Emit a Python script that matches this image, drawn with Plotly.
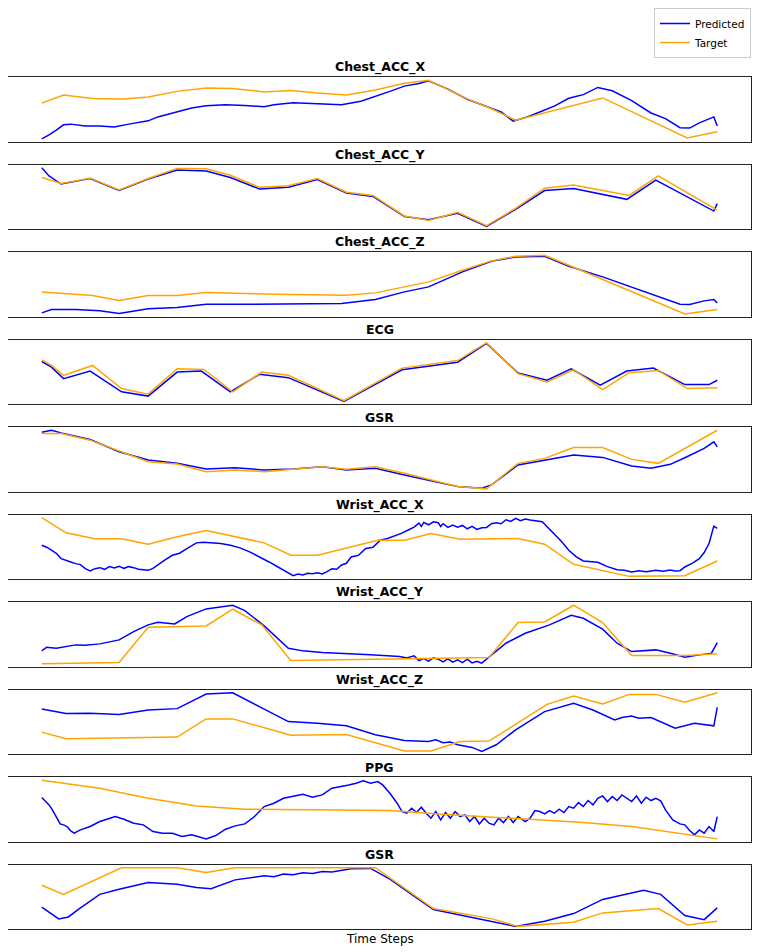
import plotly.graph_objects as go

# ---------------- data (time step, value) ----------------
titles = ["Chest_ACC_X", "Chest_ACC_Y", "Chest_ACC_Z", "ECG", "GSR",
          "Wrist_ACC_X", "Wrist_ACC_Y", "Wrist_ACC_Z", "PPG", "GSR"]
T_END = 1397

# 1 Chest_ACC_X
cax_tgt_t = [0, 45, 105, 170, 220, 280, 340, 395, 460, 515, 570, 630, 690, 750, 800, 880, 930, 980, 1160, 1335, 1397]
cax_tgt_v = [109, 134, 123, 122, 128, 145, 155, 154, 143, 148, 140, 134, 149, 170, 179, 122, 92, 57, 125, 3, 22]
cax_prd_t = [0, 15, 30, 45, 60, 90, 120, 150, 180, 220, 240, 280, 310, 340, 380, 420, 460, 480, 520, 570, 620, 660,
             690, 720, 750, 780, 800, 840, 880, 920, 950, 975, 1000, 1030, 1060, 1090, 1120, 1150, 1180, 1220, 1260,
             1290, 1320, 1340, 1360, 1390, 1397]
cax_prd_v = [0, 12, 27, 43, 45, 39, 39, 36, 45, 55, 67, 82, 94, 101, 104, 102, 98, 104, 110, 107, 104, 115,
             129, 145, 161, 169, 177, 152, 121, 99, 82, 54, 65, 82, 100, 124, 135, 157, 147, 117, 79,
             62, 34, 33, 49, 67, 39]

# 2 Chest_ACC_Y
cay_tgt_t = [0, 40, 100, 160, 220, 280, 340, 390, 450, 510, 570, 630, 685, 750, 800, 860, 920, 980, 1040, 1100, 1215, 1275, 1397]
cay_tgt_v = [149, 131, 147, 111, 146, 177, 176, 156, 119, 124, 146, 104, 94, 31, 17, 42, 1, 54, 116, 126, 94, 154, 49]
cay_prd_t = [0, 15, 40, 70, 100, 160, 220, 280, 340, 390, 450, 510, 570, 630, 685, 750, 800, 860, 920, 980, 1040,
             1100, 1210, 1270, 1390, 1397]
cay_prd_v = [179, 154, 129, 137, 146, 109, 144, 172, 169, 149, 114, 119, 143, 101, 91, 29, 19, 39, -1, 51, 109,
             115, 82, 141, 46, 69]

# 3 Chest_ACC_Z
caz_tgt_t = [0, 105, 160, 220, 280, 340, 480, 630, 690, 800, 870, 930, 980, 1040, 1090, 1330, 1397]
caz_tgt_v = [66, 55, 40, 55, 55, 64, 59, 56, 63, 96, 131, 159, 173, 176, 146, 0, 13]
caz_prd_t = [0, 20, 70, 120, 160, 220, 280, 340, 420, 520, 620, 690, 750, 800, 870, 930, 980, 1040, 1090, 1160,
             1220, 1270, 1320, 1340, 1370, 1390, 1397]
caz_prd_v = [3, 13, 13, 9, 1, 15, 19, 29, 29, 29, 31, 43, 66, 81, 126, 158, 171, 173, 143, 111,
             81, 56, 29, 28, 39, 43, 33]

# 4 ECG
ecg_tgt_t = [0, 20, 45, 105, 165, 220, 280, 335, 395, 455, 510, 625, 745, 860, 920, 985, 1045, 1100, 1160, 1215, 1275, 1335, 1397]
ecg_tgt_v = [125, 108, 78, 108, 38, 21, 98, 96, 28, 88, 78, 1, 100, 123, 177, 83, 58, 95, 35, 86, 93, 38, 40]
ecg_prd_t = [0, 20, 45, 100, 165, 220, 280, 330, 390, 450, 510, 625, 745, 860, 920, 985, 1045, 1095, 1155, 1210,
             1265, 1330, 1380, 1397]
ecg_prd_v = [120, 103, 68, 91, 28, 15, 88, 91, 28, 81, 71, -1, 95, 118, 175, 85, 63, 98, 48, 91,
             100, 50, 50, 63]

# 5 GSR
gsr_tgt_t = [0, 40, 100, 160, 220, 280, 340, 400, 460, 520, 580, 630, 690, 750, 810, 860, 920, 985, 1040, 1100,
             1160, 1220, 1275, 1330, 1397]
gsr_tgt_v = [166, 166, 146, 114, 81, 74, 51, 56, 51, 58, 66, 58, 66, 46, 24, 6, -1, 76, 91, 124,
             124, 88, 76, 121, 176]
gsr_prd_t = [0, 20, 40, 100, 160, 220, 280, 340, 400, 460, 520, 580, 630, 690, 750, 810, 860, 910, 930, 985,
             1040, 1100, 1160, 1220, 1260, 1300, 1330, 1370, 1390, 1397]
gsr_prd_v = [170, 176, 168, 148, 111, 86, 76, 59, 63, 56, 59, 66, 56, 61, 41, 21, 6, 1, 11, 71,
             86, 101, 94, 68, 61, 73, 93, 121, 141, 126]

# 6 Wrist_ACC_X
wax_tgt_t = [0, 50, 110, 165, 220, 280, 340, 400, 460, 515, 570, 695, 750, 805, 865, 985, 1040, 1100, 1215, 1330, 1397]
wax_tgt_v = [176, 131, 113, 113, 97, 119, 138, 119, 101, 64, 64, 109, 109, 129, 112, 114, 97, 37, 1, 3, 47]
wax_prd_t = [0, 10, 20, 30, 40, 50, 60, 70, 80, 90, 100, 110, 120, 130, 140, 150, 160, 170, 180, 190, 200, 210,
             220, 230, 240, 255, 270, 285, 300, 310, 320, 335, 350, 370, 390, 410, 430, 450, 470, 485, 500, 510,
             520, 530, 540, 550, 560, 570, 580, 590, 600, 610, 620, 630, 640, 655, 670, 685, 700, 715, 730, 745,
             760, 770, 780, 785, 790, 800, 810, 820, 825, 830, 840, 850, 860, 870, 880, 890, 900, 910, 920, 930,
             940, 950, 960, 970, 980, 990, 1000, 1010, 1035, 1060, 1075, 1090, 1105, 1120, 1135, 1150, 1170,
             1190, 1205, 1220, 1235, 1250, 1270, 1285, 1300, 1310, 1320, 1330, 1345, 1360, 1370, 1380, 1390, 1397]
wax_prd_v = [94, 88, 79, 70, 54, 50, 44, 39, 36, 24, 17, 24, 27, 22, 30, 26, 31, 25, 30, 27, 22, 21,
             19, 25, 34, 50, 64, 70, 84, 92, 101, 103, 101, 99, 94, 86, 74, 60, 44, 32, 19, 10,
             3, 8, 5, 10, 9, 12, 8, 15, 24, 22, 35, 40, 59, 64, 84, 88, 109, 114, 121, 130,
             141, 148, 160, 150, 162, 155, 164, 161, 150, 158, 147, 154, 148, 153, 143, 150, 141, 146, 147, 158,
             161, 158, 170, 165, 174, 167, 172, 169, 164, 129, 105, 79, 60, 47, 44, 43, 30,
             21, 19, 14, 18, 15, 19, 16, 20, 17, 18, 29, 40, 54, 72, 99, 151, 144]

# 7 Wrist_ACC_Y
way_tgt_t = [0, 160, 220, 340, 395, 455, 515, 925, 985, 1040, 1100, 1160, 1220, 1330, 1397]
way_tgt_v = [0, 4, 110, 114, 164, 117, 10, 19, 124, 126, 176, 124, 25, 25, 30]
way_prd_t = [0, 10, 30, 50, 70, 90, 120, 160, 190, 220, 240, 275, 300, 340, 395, 420, 460, 510, 540, 580, 620,
             680, 740, 755, 770, 780, 790, 800, 810, 820, 830, 840, 850, 860, 870, 880, 890, 900, 910, 930,
             960, 1000, 1050, 1095, 1120, 1160, 1190, 1220, 1270, 1300, 1330, 1360, 1385, 1397]
way_prd_v = [39, 50, 47, 53, 57, 56, 60, 72, 97, 117, 125, 120, 142, 165, 176, 160, 114, 47, 39, 34, 32,
             27, 22, 18, 24, 10, 16, 8, 18, 14, 6, 15, 5, 12, 4, 14, 3, 8, 2, 27,
             62, 92, 117, 146, 137, 104, 62, 37, 42, 32, 20, 27, 32, 64]

# 8 Wrist_ACC_Z
waz_tgt_t = [0, 50, 280, 340, 395, 515, 630, 750, 805, 865, 925, 1045, 1100, 1160, 1215, 1270, 1330, 1397]
waz_tgt_v = [60, 40, 45, 100, 100, 51, 53, 3, 3, 32, 33, 144, 169, 145, 174, 174, 150, 179]
waz_prd_t = [0, 50, 100, 160, 220, 280, 340, 395, 450, 510, 570, 630, 690, 750, 800, 815, 830, 845, 860, 875,
             890, 900, 910, 940, 980, 1040, 1100, 1140, 1185, 1200, 1220, 1235, 1260, 1310, 1350, 1390, 1397]
waz_prd_v = [130, 116, 117, 113, 127, 131, 175, 179, 137, 92, 87, 79, 52, 35, 32, 37, 28, 30, 22, 18,
             14, 8, 2, 22, 67, 122, 147, 127, 97, 104, 109, 102, 104, 72, 87, 79, 135]

# 9 PPG
ppg_tgt_t = [0, 120, 220, 320, 420, 520, 620, 720, 820, 920, 1020, 1120, 1220, 1320, 1397]
ppg_tgt_v = [176, 152, 122, 99, 89, 87, 87, 85, 75, 67, 59, 49, 37, 17, 0]
ppg_prd_t = [0, 8, 15, 22, 30, 38, 45, 52, 60, 67, 80, 100, 120, 140, 152, 170, 190, 210, 230, 250, 270, 290,
             310, 340, 360, 380, 400, 420, 440, 460, 480, 500, 520, 540, 560, 580, 600, 620, 635, 650, 665,
             680, 695, 705, 720, 735, 745, 755, 765, 775, 785, 795, 805, 815, 825, 835, 845, 855, 865, 875,
             885, 895, 905, 915, 925, 935, 945, 955, 965, 975, 985, 1000, 1010, 1020, 1030, 1040, 1050, 1060,
             1070, 1080, 1090, 1100, 1110, 1120, 1130, 1140, 1150, 1160, 1170, 1180, 1190, 1200, 1210, 1220,
             1230, 1240, 1250, 1260, 1270, 1280, 1290, 1305, 1320, 1330, 1340, 1350, 1360, 1370, 1380, 1390, 1397]
ppg_prd_v = [124, 112, 102, 87, 67, 45, 42, 37, 24, 17, 27, 37, 52, 62, 67, 59, 47, 42, 22, 17, 17, 7,
             12, 0, 10, 29, 39, 45, 67, 97, 107, 122, 127, 134, 125, 132, 152, 157, 162, 167, 174,
             167, 172, 162, 137, 107, 82, 77, 92, 79, 95, 77, 62, 82, 57, 79, 62, 82, 67, 72,
             52, 67, 45, 62, 47, 42, 62, 49, 67, 49, 67, 52, 62, 85, 82, 75, 85, 77,
             89, 79, 97, 92, 109, 97, 115, 102, 122, 129, 112, 127, 115, 132, 122, 112,
             129, 107, 125, 115, 122, 114, 87, 57, 45, 42, 25, 12, 27, 17, 37, 22, 67]

# 10 GSR
gsr2_tgt_t = [0, 45, 165, 280, 340, 400, 690, 810, 930, 985, 1100, 1160, 1275, 1335, 1397]
gsr2_tgt_v = [121, 94, 173, 173, 159, 173, 173, 52, 22, -1, 11, 39, 52, 3, 14]
gsr2_prd_t = [0, 20, 35, 55, 80, 120, 160, 220, 280, 320, 350, 400, 460, 480, 500, 520, 540, 560, 580, 600, 620,
              640, 680, 720, 770, 810, 870, 930, 980, 1040, 1100, 1160, 1210, 1245, 1280, 1330, 1370, 1397]
gsr2_prd_v = [56, 37, 21, 27, 54, 94, 109, 129, 124, 114, 111, 137, 149, 146, 154, 152, 158, 156, 162, 160, 166,
              170, 171, 139, 89, 49, 31, 14, -1, 14, 37, 79, 96, 106, 94, 31, 19, 54]

panels = [
    (cax_prd_t, cax_prd_v, cax_tgt_t, cax_tgt_v),
    (cay_prd_t, cay_prd_v, cay_tgt_t, cay_tgt_v),
    (caz_prd_t, caz_prd_v, caz_tgt_t, caz_tgt_v),
    (ecg_prd_t, ecg_prd_v, ecg_tgt_t, ecg_tgt_v),
    (gsr_prd_t, gsr_prd_v, gsr_tgt_t, gsr_tgt_v),
    (wax_prd_t, wax_prd_v, wax_tgt_t, wax_tgt_v),
    (way_prd_t, way_prd_v, way_tgt_t, way_tgt_v),
    (waz_prd_t, waz_prd_v, waz_tgt_t, waz_tgt_v),
    (ppg_prd_t, ppg_prd_v, ppg_tgt_t, ppg_tgt_v),
    (gsr2_prd_t, gsr2_prd_v, gsr2_tgt_t, gsr2_tgt_v),
]

# ---------------- figure ----------------
# The page adds an 8px body margin, so the figure is 8px smaller and all
# positions below are given in figure pixels (= page pixels - 8).
OFF = 8
W, H = 761 - OFF, 952 - OFF
FONT = "DejaVu Sans"
fig = go.Figure()
layout = dict(
    width=W, height=H,
    margin=dict(l=0, r=W - (751 - OFF), t=0, b=0, pad=0),
    paper_bgcolor="white", plot_bgcolor="white",
    font=dict(family=FONT, color="black"),
    showlegend=True,
    legend=dict(x=1, xanchor="right", y=1, yanchor="top",
                bordercolor="#cccccc", borderwidth=1, bgcolor="white",
                font=dict(family=FONT, size=10.5), tracegroupgap=0, itemwidth=30),
    annotations=[],
)

xr = [-0.05 * T_END, 1.05 * T_END]
for i, (pt, pv, tt, tv) in enumerate(panels):
    top = 77.3 + 87.5 * i - OFF
    bot = top + 64.5
    ax = "" if i == 0 else str(i + 1)
    lo = min(min(pv), min(tv))
    hi = max(max(pv), max(tv))
    pad = 0.05 * (hi - lo)
    common = dict(showticklabels=False, ticks="", showgrid=False, zeroline=False,
                  showline=True, mirror=True, linecolor="#222222", linewidth=1)
    layout["xaxis" + ax] = dict(domain=[0, 1], range=xr, anchor="y" + ax, **common)
    layout["yaxis" + ax] = dict(domain=[1 - bot / H, 1 - top / H], range=[lo - pad, hi + pad],
                                anchor="x" + ax, **common)
    fig.add_trace(go.Scatter(x=pt, y=pv, mode="lines", name="Predicted",
                             line=dict(color="#0000ff", width=1.5),
                             xaxis="x" + ax, yaxis="y" + ax, showlegend=(i == 0)))
    fig.add_trace(go.Scatter(x=tt, y=tv, mode="lines", name="Target",
                             line=dict(color="#ffa500", width=1.5),
                             xaxis="x" + ax, yaxis="y" + ax, showlegend=(i == 0)))
    layout["annotations"].append(dict(
        text="<b>%s</b>" % titles[i], x=0.5, xref="paper", y=1 - (top - 10) / H, yref="paper",
        xanchor="center", yanchor="middle", showarrow=False,
        font=dict(family=FONT, size=12.5, color="black")))

layout["annotations"].append(dict(
    text="Time Steps", x=0.5, xref="paper", y=1 - (939 - OFF) / H, yref="paper",
    xanchor="center", yanchor="middle", showarrow=False,
    font=dict(family=FONT, size=12, color="black")))

fig.update_layout(**layout)
fig.write_html("out.html")
